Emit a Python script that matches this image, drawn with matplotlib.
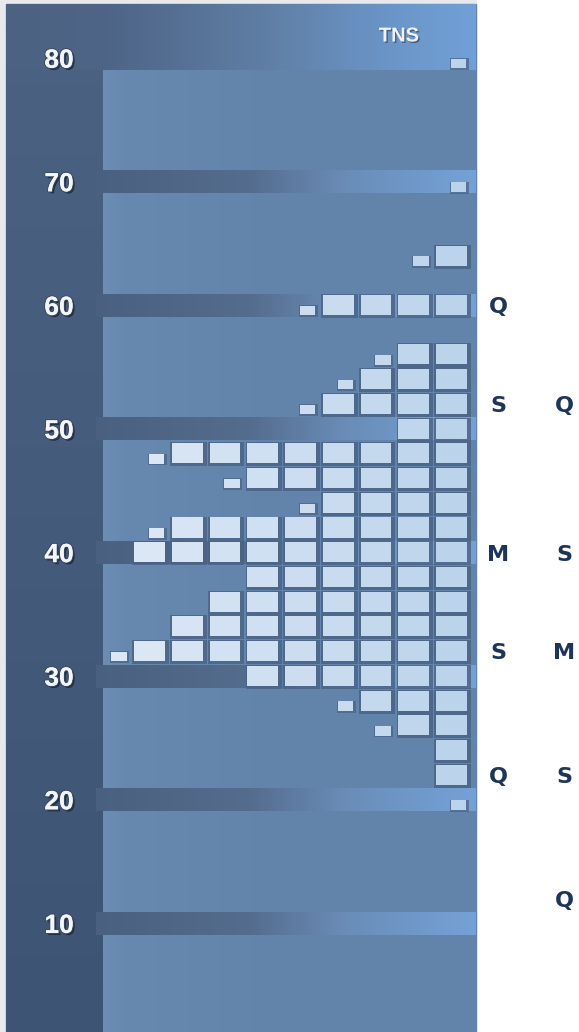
import matplotlib
matplotlib.use('Agg')
import matplotlib.pyplot as plt
import matplotlib.patheffects as pe
from matplotlib.colors import LinearSegmentedColormap, to_rgb
from matplotlib.patches import Rectangle
import numpy as np

# Données : une rangée de blocs tous les 2 points, comptés depuis la colonne de droite
levels = [80, 70, 64, 60, 56, 54, 52, 50, 48, 46, 44, 42, 40, 38, 36, 34, 32, 30, 28, 26, 24, 22, 20]
full_blocks = [0, 0, 1, 4, 2, 3, 4, 2, 8, 6, 4, 8, 9, 6, 7, 8, 9, 6, 3, 2, 1, 1, 0]
half_block = [1, 1, 1, 1, 1, 1, 1, 0, 1, 1, 1, 1, 0, 0, 0, 0, 1, 0, 1, 1, 0, 0, 1]

ticks = [10, 20, 30, 40, 50, 60, 70, 80]
source = 'TNS'

# lettres à droite du panneau
letter_levels = [60, 52, 40, 32, 22, 12]
letters_first = ['Q', 'S', 'M', 'S', 'Q', '']
letters_second = ['', 'Q', 'S', 'M', 'S', 'Q']

n_cols = 9

# conversion pixels -> coordonnées (colonnes / points) pour le décor
def px_x(px):
    return (px - 111.75) / 37.75

def px_y(py):
    return (1047 - py) / 12.36

fig = plt.figure(figsize=(5.79, 10.32), dpi=100, facecolor='white')
ax = fig.add_axes([0, 0, 1, 1])
ax.axis('off')

# Fond : cadre gris + panneau bleu
ax.add_patch(Rectangle((px_x(0), px_y(1032)), px_x(476) - px_x(0), px_y(0) - px_y(1032),
                       color='#e7e9ec', zorder=0))
ax.add_patch(Rectangle((px_x(6), px_y(1032)), px_x(476) - px_x(6), px_y(4) - px_y(1032),
                       color='#6384ab', zorder=0.5))

def gradient(extent, colors, horizontal=True, z=1):
    cmap = LinearSegmentedColormap.from_list('g', colors)
    g = np.linspace(0, 1, 256)
    img = g[None, :] if horizontal else g[:, None]
    ax.imshow(img, extent=extent, cmap=cmap, aspect='auto', origin='lower',
              interpolation='bilinear', zorder=z)

# panneaux intérieurs (légèrement plus clairs à gauche)
gradient([px_x(103), px_x(476), px_y(1032), px_y(4)],
         [(0, '#6c8db4'), (0.05, '#6789b0'), (0.4, '#6385ac'), (1, '#6283aa')], z=0.8)
# bande sombre de gauche
gradient([px_x(6), px_x(103), px_y(1032), px_y(4)],
         [(0, '#3e5475'), (1, '#4b6283')], horizontal=False, z=1)

# bandes horizontales à chaque dizaine
band_colors = [(0, '#4a6081'), (0.4, '#546c8d'), (0.66, '#6a8db8'), (1, '#74a2d7')]
for t in ticks[:-1]:
    gradient([px_x(96), px_x(476), t - 0.93, t + 0.93], band_colors, z=1.2)
# en-tête (bande de 80 jusqu'en haut)
gradient([px_x(6), px_x(476), ticks[-1] - 0.93, px_y(4)],
         [(0, '#4b6283'), (0.22, '#4e6587'), (0.55, '#5f7ea4'), (0.8, '#6a94c6'), (1, '#71a0d7')],
         z=1.2)

# Blocs
c_left = np.array(to_rgb('#dbe7f5'))
c_right = np.array(to_rgb('#bcd3ec'))
def block_color(c):
    f = (c - 1) / (n_cols - 1)
    return tuple(c_left * (1 - f) + c_right * f)

for v, n, h in zip(levels, full_blocks, half_block):
    cols = list(range(n_cols + 1 - n, n_cols + 1))
    if n:
        ax.bar([c + 0.03 for c in cols], 1.95, bottom=v - 1.03, width=0.97,
               color='#4a6284', alpha=0.8, zorder=2)
        ax.bar(cols, 1.62, bottom=v - 0.78, width=0.81,
               color=[block_color(c) for c in cols], zorder=3)
    if h:
        c = n_cols - n
        ax.bar(c + 0.21, 0.95, bottom=v - 0.95, width=0.5,
               color='#4a6284', alpha=0.7, zorder=2)
        ax.bar(c + 0.19, 0.76, bottom=v - 0.8, width=0.41,
               color=block_color(max(c, 1)), zorder=3)

# Textes
shadow = [pe.SimplePatchShadow(offset=(1.5, -1.5), shadow_rgbFace='#1a2535', alpha=0.8),
          pe.withStroke(linewidth=1.5, foreground='#3a4a60'), pe.Normal()]
for t in ticks:
    ax.text(px_x(59), t, str(t), ha='center', va='center_baseline', color='#f3f5f8',
            fontsize=19, fontweight='bold', family='Liberation Sans', path_effects=shadow,
            zorder=5)
ax.text(px_x(399), px_y(34), source, ha='center', va='center_baseline', color='#eef2f7',
        fontsize=14.5, fontweight='bold', family='Liberation Sans',
        path_effects=[pe.SimplePatchShadow(offset=(1, -1), shadow_rgbFace='#2a3a50', alpha=0.6),
                      pe.Normal()], zorder=5)

for v, a, b in zip(letter_levels, letters_first, letters_second):
    ax.text(px_x(498), v, a, ha='center', va='center_baseline', color='#1d3557',
            fontsize=16, fontweight='bold', family='DejaVu Sans', zorder=5)
    ax.text(px_x(564), v, b, ha='center', va='center_baseline', color='#1d3557',
            fontsize=16, fontweight='bold', family='DejaVu Sans', zorder=5)

ax.set_xlim(px_x(0), px_x(579))
ax.set_ylim(px_y(1032), px_y(0))

fig.savefig('out.png', dpi=100, facecolor='white')
